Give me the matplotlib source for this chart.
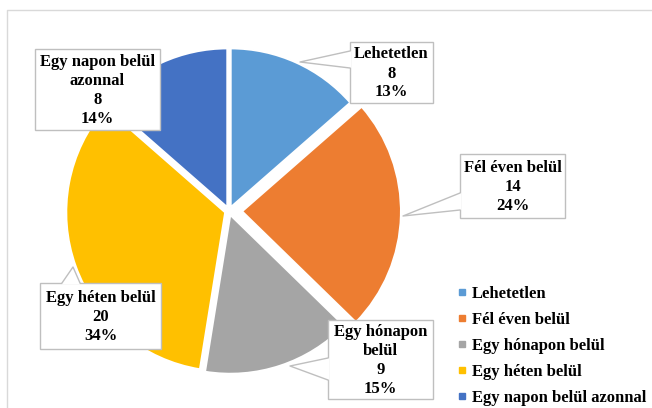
import matplotlib
matplotlib.use("Agg")
import matplotlib.pyplot as plt
from matplotlib.lines import Line2D
from matplotlib.patches import Rectangle, Polygon

categories = ["Lehetetlen", "Fél éven belül", "Egy hónapon belül", "Egy héten belül", "Egy napon belül azonnal"]
values = [8, 14, 9, 20, 8]
percents = ["13%", "24%", "15%", "34%", "14%"]
label_names = ["Lehetetlen", "Fél éven belül", "Egy hónapon\nbelül", "Egy héten belül", "Egy napon belül\nazonnal"]
colors = ["#5B9BD5", "#ED7D31", "#A5A5A5", "#FFC000", "#4472C4"]

W, H = 652, 408
fig = plt.figure(figsize=(W / 100, H / 100), dpi=100)
ax = fig.add_axes([0, 0, 1, 1])

def Y(y):
    return H - y

FONT = dict(family="Liberation Serif", weight="bold", size=12)

# pie (explode offsets are in data units = pixels here)
ax.pie(values, colors=colors, startangle=90, counterclock=False,
       center=(229, Y(211)), radius=159,
       explode=[4, 13, 4, 4, 4],
       wedgeprops=dict(edgecolor="white", linewidth=1.5))

# callout boxes: (x0, y0, x1, y1), tip, base points
boxes = [
    ((350, 42, 433, 103), (300, 62), [(350, 51), (350, 68)]),
    ((460, 154, 565, 218), (403, 216), [(460, 193), (460, 210)]),
    ((328, 320, 433, 399), (290, 366), [(328, 358), (328, 380)]),
    ((40, 283, 161, 349), (73, 267), [(62, 283), (80, 283)]),
    ((35, 49, 160, 130), None, None),
]
edge = "#BFBFBF"
for i, ((x0, y0, x1, y1), tip, base) in enumerate(boxes):
    ax.add_patch(Rectangle((x0, Y(y1)), x1 - x0, y1 - y0, facecolor="white",
                           edgecolor=edge, lw=1, zorder=3))
    if tip is not None:
        (bx0, by0), (bx1, by1) = base
        if bx0 == bx1:
            d = 1.5 if bx0 == x0 else -1.5
            pts = [tip, (bx0, by0), (bx0 + d, by0), (bx1 + d, by1), (bx1, by1)]
        else:
            d = 1.5
            pts = [tip, (bx0, by0), (bx0, by0 + d), (bx1, by1 + d), (bx1, by1)]
        ax.add_patch(Polygon([(px, Y(py)) for px, py in pts], closed=True,
                             facecolor="white", edgecolor="none", zorder=4))
        ax.plot([bx0, tip[0], bx1], [Y(by0), Y(tip[1]), Y(by1)], color=edge,
                lw=1, zorder=4.5)
    txt = f"{label_names[i]}\n{values[i]}\n{percents[i]}"
    ax.text((x0 + x1) / 2, Y((y0 + y1) / 2 + 1), txt, ha="center", va="center",
            linespacing=1.25, zorder=5, color="black", **FONT)

# frame lines
ax.plot([7, 7, 660], [Y(420), Y(10), Y(10)], color="#D9D9D9", lw=1, zorder=1)

# legend
handles = [Line2D([], [], marker="s", ls="", color=c, markersize=4.5) for c in colors]
ax.legend(handles, categories, loc="upper left", bbox_to_anchor=(457, Y(286)),
          bbox_transform=ax.transData, frameon=False, handlelength=0.55,
          handletextpad=0.35, labelspacing=0.6, borderpad=0, borderaxespad=0,
          prop=dict(family="Liberation Serif", weight="bold", size=12))

ax.set_xlim(0, W)
ax.set_ylim(0, H)
ax.set_aspect("auto")
ax.axis("off")
fig.savefig("out.png", dpi=100, facecolor="white")
